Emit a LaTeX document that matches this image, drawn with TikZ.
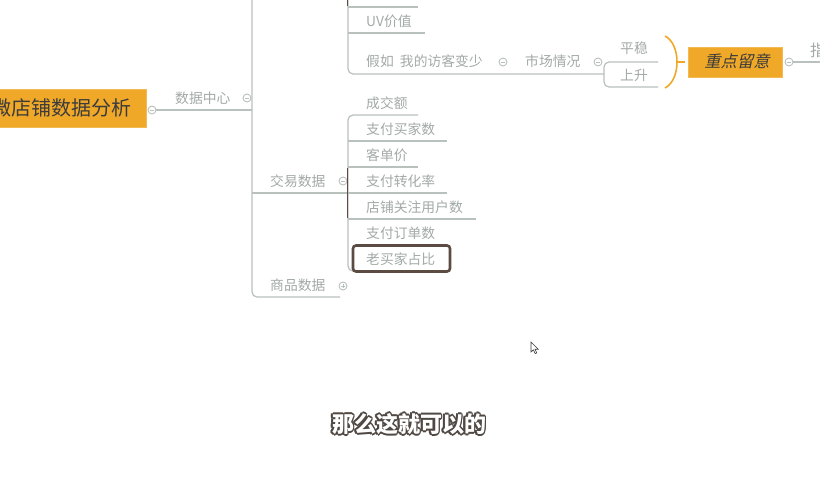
\documentclass[tikz,border=0pt]{standalone}
\usepackage{fontspec}
\usetikzlibrary{calc}
\setmainfont{Noto Sans CJK SC}
\newfontfamily\cjkslant[FakeSlant=0.22]{Noto Sans CJK SC}
\definecolor{lgray}{HTML}{B9C1BD}
\definecolor{tgray}{HTML}{A2AAA6}
\definecolor{orng}{HTML}{F0A828}
\definecolor{dbrown}{HTML}{5B4B43}
\definecolor{dtext}{HTML}{3C3C3C}
\definecolor{outl}{HTML}{4F4843}
\tikzset{
  lbl/.style={font=\fontsize{13.8}{14}\selectfont, text=tgray, inner sep=0pt, anchor=west},
  link/.style={draw=lgray, line width=1.2pt},
  hilite/.style={draw=dbrown, line width=1.6pt},
  togm/.style={circle, draw=lgray, line width=0.9pt, minimum size=8pt, inner sep=0pt, fill=white,
    path picture={\draw[lgray, line width=0.8pt] ([xshift=-2pt]path picture bounding box.center) -- ([xshift=2pt]path picture bounding box.center);}},
  togp/.style={togm, path picture={\draw[lgray, line width=0.8pt] ([xshift=-2pt]path picture bounding box.center) -- ([xshift=2pt]path picture bounding box.center) ([yshift=-2pt]path picture bounding box.center) -- ([yshift=2pt]path picture bounding box.center);}},
  orbox/.style={fill=orng, draw=orng!80!white, inner sep=0pt, anchor=center},
  subt/.style={font=\bfseries\fontsize{22}{22}\selectfont, inner sep=0pt}
}
\begin{document}
\begin{tikzpicture}[x=1pt,y=-1pt]
\useasboundingbox (0,0) rectangle (820,480);
\clip (0,0) rectangle (820,480);
\fill[white] (0,0) rectangle (820,480);

% root
\node[orbox, minimum width=160pt, minimum height=38pt] (root) at (66,108.5) {};
\node[font=\fontsize{20}{20}\selectfont, text=dtext, inner sep=0pt, anchor=west] (roottxt) at (-9,108) {微店铺数据分析};
\node[togm] (trt) at (152,110) {};

% main spine
\coordinate (sp0) at (252,0);
\coordinate (spb) at (340,297);
\draw[link] (trt.east) -- (252,110);
\draw[link, rounded corners=5pt] (sp0) |- (spb);
\draw[link] (252,193) -- (348,193);

\node[lbl] (dc) at (175,98) {数据中心};
\node[togm] (tdc) at (247,98) {};
\node[lbl] (jy) at (270,181) {交易数据};
\node[togm] (tjy) at (343,181) {};
\node[lbl] (sp) at (270,285) {商品数据};
\node[togp] (tsp) at (343,286) {};

% upper group
\draw[link, rounded corners=5pt] (348,0) |- (604,74);
\draw[link] (348,7) -- (418,7);
\draw[link] (348,33) -- (425,33);
\draw[hilite] (347.6,0) -- (347.6,6);
\node[lbl] (uv) at (366,21) {UV价值};
\node[lbl] (jr) at (366,61) {假如\ \ 我的访客变少};
\node[togm] (tjr) at (503,62) {};
\node[lbl] (sc) at (525,61) {市场情况};
\node[togm] (tsc) at (598,62) {};
\draw[link, rounded corners=5pt] (658,62) -| (604,87) -- (658,87);
\node[lbl] (pw) at (620,48) {平稳};
\node[lbl] (ss) at (620,75) {上升};

% brace and focus box
\draw[orng, line width=1.6pt] (665,36) .. controls (681,44) and (681,80) .. (665,88);
\draw[orng, line width=1.4pt] (678,62) -- (685,62);
\node[orbox, minimum width=94pt, minimum height=30pt] (zd) at (735,62) {};
\node[font=\cjkslant\fontsize{16.3}{16}\selectfont, text=dtext, inner sep=0pt] (zdt) at (737,61.5) {重点留意};
\node[togm] (tzd) at (789,62) {};
\draw[link] (tzd.east) -- (820,62);
\node[lbl, font=\fontsize{16}{16}\selectfont] (zhi) at (810,50) {指};

% trade group
\draw[link, rounded corners=5pt] (418,115) -| (348,271) -- (353,271);
\draw[link] (348,141) -- (447,141);
\draw[link] (348,167) -- (418,167);
\draw[link] (348,193) -- (447,193);
\draw[link] (348,219) -- (476,219);
\draw[hilite] (347.6,168) -- (347.6,218);
\node[lbl] (c1) at (366,103) {成交额};
\node[lbl] (c2) at (366,129) {支付买家数};
\node[lbl] (c3) at (366,155) {客单价};
\node[lbl] (c4) at (366,181) {支付转化率};
\node[lbl] (c5) at (366,207) {店铺关注用户数};
\node[lbl] (c6) at (366,233) {支付订单数};
\draw[dbrown, line width=2.6pt, rounded corners=3pt, fill=white] (353,245.5) rectangle (450,271.5);
\node[lbl] (c7) at (366,259) {老买家占比};

% cursor
\draw[fill=white, draw=dtext, line width=0.6pt] (531,342) -- (531,352) -- (533.4,349.8) -- (535.2,353.6) -- (536.8,352.9) -- (535,349.2) -- (538.2,349.2) -- cycle;

% subtitle with outline
\foreach \a in {0,45,...,315}{
  \node[subt, text=outl] at ($(409,424)+(\a:1.6pt)$) {那么这就可以的};
}
\node[subt, text=white] (sub) at (409,424) {那么这就可以的};
\end{tikzpicture}
\end{document}
